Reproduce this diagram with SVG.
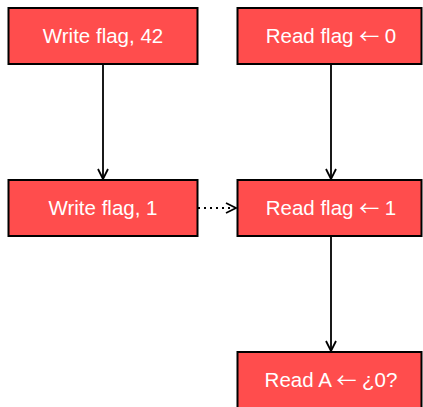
<svg xmlns="http://www.w3.org/2000/svg" width="423" height="407" viewBox="0 0 423 407">
<style>
.box{fill:#ff4d4d;stroke:#000;stroke-width:2}
.t{font-family:"Liberation Sans",Arial,sans-serif;font-size:20.5px;fill:#fff;text-anchor:middle;dominant-baseline:central}
.ar{font-family:"Noto Sans CJK SC",sans-serif;font-size:20px}
.c{fill:none;stroke:#000;stroke-width:1.8}
</style>
<defs>
<marker id="ah" viewBox="0 0 12 12" refX="11" refY="6" markerWidth="12" markerHeight="12" markerUnits="userSpaceOnUse" orient="auto">
<path d="M1,1 L11,6 L1,11" fill="none" stroke="#000" stroke-width="1.8"/>
</marker>
</defs>
<rect width="423" height="407" fill="#fff"/>
<g id="connectors">
<line class="c" x1="103" y1="64" x2="103" y2="179" marker-end="url(#ah)"/>
<line class="c" x1="331" y1="64" x2="331" y2="179" marker-end="url(#ah)"/>
<line class="c" x1="331" y1="236" x2="331" y2="351" marker-end="url(#ah)"/>
<line class="c" x1="198" y1="208" x2="236" y2="208" stroke-dasharray="2,4" marker-end="url(#ah)"/>
</g>
<g id="n1"><rect class="box" x="8.5" y="8" width="189" height="56"/><text class="t" x="103" y="35">Write flag, 42</text></g>
<g id="n2"><rect class="box" x="237.5" y="8" width="184" height="56"/><text class="t" x="331" y="35">Read flag <tspan class="ar">←</tspan> 0</text></g>
<g id="n3"><rect class="box" x="8.5" y="180" width="189" height="56"/><text class="t" x="103" y="207">Write flag, 1</text></g>
<g id="n4"><rect class="box" x="237.5" y="180" width="184" height="56"/><text class="t" x="331" y="207">Read flag <tspan class="ar">←</tspan> 1</text></g>
<g id="n5"><rect class="box" x="237.5" y="352" width="184" height="60"/><text class="t" x="331" y="379">Read A <tspan class="ar">←</tspan> ¿0?</text></g>
</svg>
